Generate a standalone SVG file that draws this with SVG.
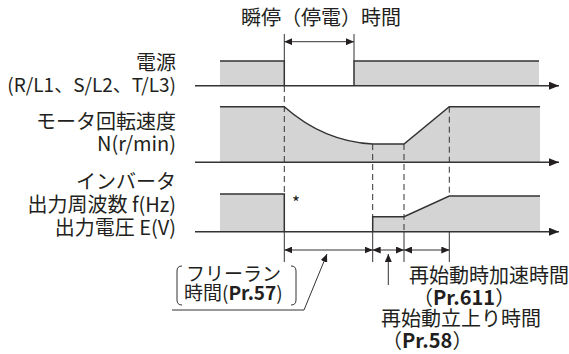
<svg xmlns="http://www.w3.org/2000/svg" width="569" height="354" viewBox="0 0 569 354">
<style>
text{font-family:"Noto Sans CJK JP","Noto Sans",sans-serif;font-size:20px;fill:#231f20}
.r{text-anchor:end}
.b{font-weight:bold}
.s{font-size:19px}
.fill{fill:#d4d4d4;stroke:none}
.ln{fill:none;stroke:#333;stroke-width:1.5}
.thin{fill:none;stroke:#333;stroke-width:1}
.dash{fill:none;stroke:#333;stroke-width:1;stroke-dasharray:6 4}
</style>
<defs>
<marker id="ax" viewBox="0 0 10 8" refX="10" refY="4" markerWidth="10" markerHeight="8" markerUnits="userSpaceOnUse" orient="auto"><path d="M0,0L10,4L0,8z" fill="#231f20"/></marker>
<marker id="ar" viewBox="0 0 8 7" refX="8" refY="3.5" markerWidth="8" markerHeight="7" markerUnits="userSpaceOnUse" orient="auto"><path d="M0,0L8,3.5L0,7z" fill="#231f20"/></marker>
<marker id="al" viewBox="0 0 8 7" refX="0" refY="3.5" markerWidth="8" markerHeight="7" markerUnits="userSpaceOnUse" orient="auto"><path d="M8,0L0,3.5L8,7z" fill="#231f20"/></marker>
</defs>

<g id="labels">
<text x="321" y="25" text-anchor="middle">瞬停（停電）時間</text>
<text class="r" x="176" y="70">電源</text>
<text class="r s" x="176" y="92">(R/L1、S/L2、T/L3)</text>
<text class="r" x="176" y="129">モータ回転速度</text>
<text class="r" x="176" y="151">N(r/min)</text>
<text class="r" x="176" y="189">インバータ</text>
<text class="r" x="176" y="212">出力周波数 f(Hz)</text>
<text class="r" x="176" y="235">出力電圧 E(V)</text>
<text x="292" y="209" style="font-size:17px">*</text>
</g>

<g id="power">
<rect class="fill" x="220" y="61" width="64.3" height="24.7"/>
<rect class="fill" x="354" y="61" width="185" height="24.7"/>
<path class="ln" d="M220,61H284.3V85.7"/>
<path class="ln" d="M354,85.7V61H539"/>
</g>

<g id="motor">
<path class="fill" d="M220,106.7H284.3C305,125 335,142 372.7,144H404L449.3,106.7H540V162.3H220z"/>
<path class="ln" d="M220,106.7H284.3C305,125 335,142 372.7,144H404L449.3,106.7H540"/>
</g>

<g id="inverter">
<rect class="fill" x="220" y="194" width="64.3" height="37.7"/>
<path class="fill" d="M372.7,231.7V216.7H404L449.3,196H540V231.7z"/>
<path class="ln" d="M220,194H284.3V231.7"/>
<path class="ln" d="M372.7,231.7V216.7H404L449.3,196H540"/>
</g>

<g id="connectors">
<path class="ln" d="M195,85.7H559" marker-end="url(#ax)"/>
<path class="ln" d="M195,162.3H559" marker-end="url(#ax)"/>
<path class="ln" d="M195,231.7H559" marker-end="url(#ax)"/>
<path class="thin" d="M284.3,34V61M354,34V61"/>
<path class="thin" d="M284.3,41.7H354" marker-start="url(#al)" marker-end="url(#ar)"/>
<path class="dash" d="M284.3,86V194"/>
<path class="dash" d="M372.7,144V216.7"/>
<path class="dash" d="M404,144V231.7"/>
<path class="dash" d="M449.3,106.7V196"/>
<path class="thin" d="M284.3,232V262M372.7,232V262M404,232V262M449.3,232V262"/>
<path class="thin" d="M284.3,250H372.7" marker-start="url(#al)" marker-end="url(#ar)"/>
<path class="thin" d="M372.7,250H404" marker-start="url(#al)" marker-end="url(#ar)"/>
<path class="thin" d="M404,250H449.3" marker-start="url(#al)" marker-end="url(#ar)"/>
<path class="thin" d="M172,310H304L327,254" marker-end="url(#ar)"/>
<path class="thin" d="M388.3,285V254" marker-end="url(#ar)"/>
</g>

<g id="freerun">
<path class="thin" d="M182,266Q177,266 177,271V300Q177,305 182,305"/>
<path class="thin" d="M291,266Q296,266 296,271V300Q296,305 291,305"/>
<text class="s" x="186" y="281">フリーラン</text>
<text class="s" x="184" y="300">時間(<tspan class="b">Pr.57</tspan>)</text>
</g>

<g id="restart">
<text x="409" y="283">再始動時加速時間</text>
<text x="413" y="305">（<tspan class="b">Pr.611</tspan>）</text>
<text x="381" y="326">再始動立上り時間</text>
<text x="382" y="348">（<tspan class="b">Pr.58</tspan>）</text>
</g>
</svg>
